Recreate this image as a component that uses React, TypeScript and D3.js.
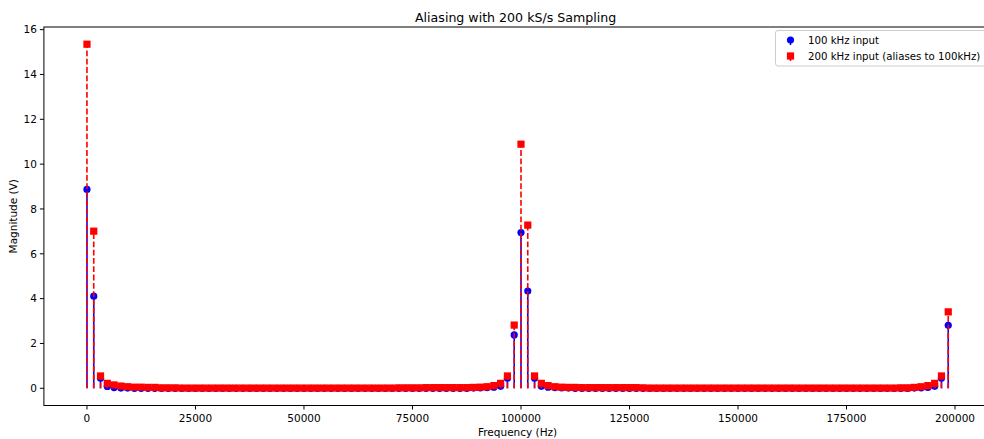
import React from "react";
import * as d3 from "d3";

const BIN_HZ = 1562.5;
const title = "Aliasing with 200 kS/s Sampling";
const xLabel = "Frequency (Hz)";
const yLabel = "Magnitude (V)";
const seriesNames = ["100 kHz input", "200 kHz input (aliases to 100kHz)"];
const xTicks = [0, 25000, 50000, 75000, 100000, 125000, 150000, 175000, 200000];
const yTicks = [0, 2, 4, 6, 8, 10, 12, 14, 16];

const blue100k = [
  8.87, 4.11, 0.45, 0.08, 0.03, 0.01, 0.01, 0, 0, 0,
  0, 0, 0, 0, 0, 0, 0, 0, 0, 0,
  0, 0, 0, 0, 0, 0, 0, 0, 0, 0,
  0, 0, 0, 0, 0, 0, 0, 0, 0, 0,
  0, 0, 0, 0, 0, 0, 0, 0, 0, 0,
  0, 0, 0, 0, 0, 0, 0, 0.01, 0.02, 0.03,
  0.05, 0.09, 0.45, 2.38, 6.95, 4.34, 0.45, 0.09, 0.05, 0.03,
  0.02, 0.01, 0, 0, 0, 0, 0, 0, 0, 0,
  0, 0, 0, 0, 0, 0, 0, 0, 0, 0,
  0, 0, 0, 0, 0, 0, 0, 0, 0, 0,
  0, 0, 0, 0, 0, 0, 0, 0, 0, 0,
  0, 0, 0, 0, 0, 0, 0, 0, 0, 0,
  0, 0, 0.01, 0.02, 0.04, 0.09, 0.45, 2.81,
];

const red200k = [
  15.35, 7.01, 0.55, 0.22, 0.15, 0.1, 0.07, 0.05, 0.05, 0.04,
  0.04, 0.02, 0.02, 0.02, 0.01, 0.01, 0.01, 0.01, 0.01, 0.01,
  0.01, 0.01, 0.01, 0.01, 0.01, 0.01, 0.01, 0.01, 0.01, 0.01,
  0.01, 0.01, 0.01, 0.01, 0.01, 0.01, 0.01, 0.01, 0.01, 0.01,
  0.01, 0.01, 0.01, 0.01, 0.01, 0.01, 0.02, 0.02, 0.02, 0.02,
  0.03, 0.03, 0.03, 0.03, 0.03, 0.03, 0.03, 0.04, 0.05, 0.07,
  0.12, 0.22, 0.55, 2.82, 10.89, 7.28, 0.55, 0.22, 0.12, 0.07,
  0.05, 0.04, 0.04, 0.03, 0.03, 0.03, 0.03, 0.03, 0.03, 0.03,
  0.03, 0.03, 0.02, 0.01, 0.01, 0.01, 0.01, 0.01, 0.01, 0.01,
  0.01, 0.01, 0.01, 0.01, 0.01, 0.01, 0.01, 0.01, 0.01, 0.01,
  0.01, 0.01, 0.01, 0.01, 0.01, 0.01, 0.01, 0.01, 0.01, 0.01,
  0.01, 0.01, 0.01, 0.01, 0.01, 0.01, 0.01, 0.01, 0.01, 0.01,
  0.02, 0.02, 0.04, 0.07, 0.12, 0.22, 0.55, 3.41,
];

const FONT = "'DejaVu Sans', sans-serif";

export default function App() {
  const W = 984;
  const H = 439;
  const plot = { left: 43.9, right: 991.3, top: 27, bottom: 405.5 };
  const n = red200k.length;
  const freqs = d3.range(n).map((i) => i * BIN_HZ);
  const xMax = freqs[n - 1];
  const yMax = d3.max(red200k) as number;
  const x = d3
    .scaleLinear()
    .domain([-0.05 * xMax, xMax * 1.05])
    .range([plot.left, plot.right]);
  const y = d3
    .scaleLinear()
    .domain([-0.05 * yMax, yMax * 1.05])
    .range([plot.bottom, plot.top]);

  const ms = 7.2;
  const blue = "#0000ff";
  const red = "#ff0000";
  const fmt = d3.format("d");

  return (
    <div style={{ position: "absolute", left: 0, top: 0 }}>
      <svg width={W} height={H} style={{ display: "block", fontFamily: FONT }}>
        <rect x={0} y={0} width={W} height={H} fill="#fff" />
        <g>
          {blue100k.map((v, i) => (
            <line
              key={"bs" + i}
              x1={x(freqs[i])}
              x2={x(freqs[i])}
              y1={y(0)}
              y2={y(v)}
              stroke={blue}
              strokeWidth={1.6}
            />
          ))}
          {blue100k.map((v, i) => (
            <circle key={"bm" + i} cx={x(freqs[i])} cy={y(v)} r={ms / 2} fill={blue} />
          ))}
        </g>
        <g>
          {red200k.map((v, i) => (
            <line
              key={"rs" + i}
              x1={x(freqs[i])}
              x2={x(freqs[i])}
              y1={y(0)}
              y2={y(v)}
              stroke={red}
              strokeWidth={1.6}
              strokeDasharray="5.8,2.5"
            />
          ))}
          {red200k.map((v, i) => (
            <rect
              key={"rm" + i}
              x={x(freqs[i]) - ms / 2}
              y={y(v) - ms / 2}
              width={ms}
              height={ms}
              fill={red}
            />
          ))}
        </g>
        <rect
          x={plot.left}
          y={plot.top}
          width={plot.right - plot.left}
          height={plot.bottom - plot.top}
          fill="none"
          stroke="#000"
          strokeWidth={1}
        />
        {xTicks.map((t) => (
          <g key={"xt" + t}>
            <line x1={x(t)} x2={x(t)} y1={plot.bottom} y2={plot.bottom + 4} stroke="#000" strokeWidth={1} />
            <text x={x(t)} y={plot.bottom + 16} fontSize={10.5} textAnchor="middle" fill="#000">
              {fmt(t)}
            </text>
          </g>
        ))}
        {yTicks.map((t) => (
          <g key={"yt" + t}>
            <line x1={plot.left - 4} x2={plot.left} y1={y(t)} y2={y(t)} stroke="#000" strokeWidth={1} />
            <text x={plot.left - 7} y={y(t) + 3.8} fontSize={10.5} textAnchor="end" fill="#000">
              {fmt(t)}
            </text>
          </g>
        ))}
        <text x={(plot.left + plot.right) / 2} y={436} fontSize={10.5} textAnchor="middle" fill="#000">
          {xLabel}
        </text>
        <text
          transform={`translate(17,${(plot.top + plot.bottom) / 2}) rotate(-90)`}
          fontSize={10.5}
          textAnchor="middle"
          fill="#000"
        >
          {yLabel}
        </text>
        <text x={(plot.left + plot.right) / 2 - 2} y={21.5} fontSize={12.6} textAnchor="middle" fill="#000">
          {title}
        </text>
        <g>
          <rect x={775.5} y={30.5} width={220} height={35.5} rx={2.5} fill="#fff" fillOpacity={0.8} stroke="#cccccc" strokeWidth={1} />
          <circle cx={790.5} cy={40} r={ms / 2} fill={blue} />
          <line x1={790.5} x2={790.5} y1={40} y2={45} stroke={blue} strokeWidth={1.6} />
          <text x={808} y={44.3} fontSize={10.2} fill="#000">
            {seriesNames[0]}
          </text>
          <rect x={790.5 - ms / 2} y={56 - ms / 2} width={ms} height={ms} fill={red} />
          <line x1={790.5} x2={790.5} y1={56} y2={61} stroke={red} strokeWidth={1.6} />
          <text x={808} y={60.3} fontSize={10.2} fill="#000">
            {seriesNames[1]}
          </text>
        </g>
      </svg>
    </div>
  );
}
